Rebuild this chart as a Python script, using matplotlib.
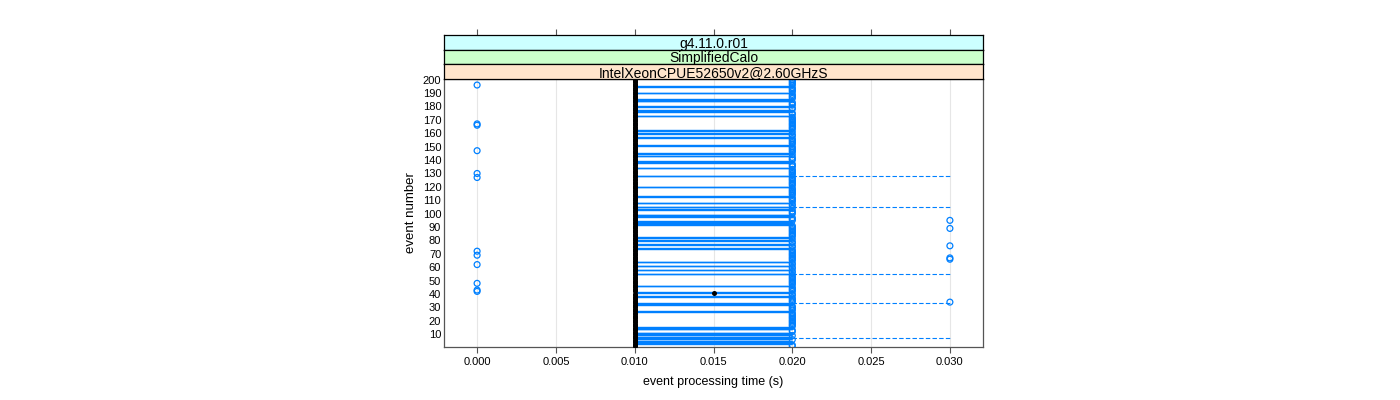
#!/usr/bin/env python3
# -*- coding: utf-8 -*-
#
# Per-event processing time, box-and-whisker style (lattice look).

import matplotlib
matplotlib.use("Agg")
import matplotlib.pyplot as plt
import numpy


# event numbers that have a box from 0.01 to 0.02
boxedEvents = [3, 4, 5, 7, 8, 10, 11, 14, 15, 27, 32, 33, 38, 41, 46, 55, 58,
	61, 64, 74, 77, 80, 82, 92, 93, 94, 98, 99, 103, 105, 108, 113, 120, 128,
	134, 138, 139, 143, 145, 151, 157, 160, 162, 173, 176, 177, 180, 184, 185,
	190, 195]
boxLow = 0.01
boxHigh = 0.02
medianDefault = 0.01
# events with a different median
specialMedianEvents = [41]
specialMedianValues = [0.015]
# events whose upper whisker goes to 0.03
whiskerEvents = [7, 33, 55, 105, 128]
whiskerTop = 0.03
# outliers
outlierZeroEvents = [42, 43, 48, 62, 69, 72, 127, 130, 147, 166, 167, 196]
outlierHighEvents = [34, 66, 67, 76, 89, 95]
outlierZeroValue = 0.0
outlierHighValue = 0.03
outlierMidValue = 0.02

stripLabels = ["g4.11.0.r01", "SimplifiedCalo", "IntelXeonCPUE52650v2@2.60GHzS"]
stripColors = ["#ccffff", "#ccffcc", "#ffe5cc"]
xTicks = [0.000, 0.005, 0.010, 0.015, 0.020, 0.025, 0.030]
yTicks = list(range(10, 201, 10))
nEvents = 200

BLUE = "#0080ff"
FRAME = "#555555"


def main(args):
	plt.rcParams['font.family'] = ['Liberation Sans', 'DejaVu Sans']

	events = numpy.arange(1, nEvents + 1)
	medians = numpy.full(nEvents, medianDefault)
	for ev, val in zip(specialMedianEvents, specialMedianValues):
		medians[ev - 1] = val
	midOutlierEvents = [e for e in events if e not in boxedEvents]

	myFigure = plt.figure(figsize=(14, 4), dpi=100)
	left, width = 444 / 1400, (983 - 444) / 1400
	bottom, height = 1 - 347 / 400, (347 - 79) / 400
	myFrame = myFigure.add_axes([left, bottom, width, height])

	xMin, xMax = -0.0021, 0.0321
	myFrame.set_xlim(xMin, xMax)
	myFrame.set_ylim(0.5, nEvents + 0.5)

	for xt in xTicks:
		myFrame.axvline(xt, color="#e6e6e6", lw=0.8, zorder=0)

	half = 0.25
	bx = numpy.array(boxedEvents)
	myFrame.hlines(bx - half, boxLow, boxHigh, color=BLUE, lw=1.0)
	myFrame.hlines(bx + half, boxLow, boxHigh, color=BLUE, lw=1.0)
	myFrame.vlines([boxLow] * len(bx), bx - half, bx + half, color=BLUE, lw=1.0)
	myFrame.vlines([boxHigh] * len(bx), bx - half, bx + half, color=BLUE, lw=1.0)

	myFrame.hlines(whiskerEvents, boxHigh, whiskerTop, color=BLUE, lw=0.8,
		linestyles=(0, (4, 2)))

	myFrame.scatter([outlierMidValue] * len(midOutlierEvents), midOutlierEvents,
		s=18, facecolors="none", edgecolors=BLUE, linewidths=0.9, zorder=3)
	myFrame.scatter([outlierZeroValue] * len(outlierZeroEvents), outlierZeroEvents,
		s=18, facecolors="none", edgecolors=BLUE, linewidths=0.9, zorder=3)
	myFrame.scatter([outlierHighValue] * len(outlierHighEvents), outlierHighEvents,
		s=18, facecolors="none", edgecolors=BLUE, linewidths=0.9, zorder=3)

	myFrame.scatter(medians, events, s=13, color="black", linewidths=0, zorder=4)

	myFrame.set_xticks(xTicks)
	myFrame.set_xticklabels(["%.3f" % v for v in xTicks])
	myFrame.set_yticks(yTicks)
	myFrame.set_yticklabels([str(v) for v in yTicks])
	myFrame.tick_params(axis="x", direction="out", length=4.5, color=FRAME,
		labelsize=8, pad=3)
	myFrame.tick_params(axis="y", length=0, labelsize=8, pad=2)
	for sp in myFrame.spines.values():
		sp.set_color(FRAME)
		sp.set_linewidth(0.9)

	myFrame.set_xlabel("event processing time (s)", fontsize=9, labelpad=6)
	myFrame.set_ylabel("event number", fontsize=9.5, labelpad=4)

	# strips on top of the panel
	stripH = (79 - 35) / 3 / 400
	for i, (lab, col) in enumerate(zip(stripLabels, stripColors)):
		sb = bottom + height + (2 - i) * stripH
		stripAx = myFigure.add_axes([left, sb, width, stripH])
		stripAx.set_facecolor(col)
		stripAx.set_xlim(xMin, xMax)
		stripAx.set_yticks([])
		for sp in stripAx.spines.values():
			sp.set_color("black")
			sp.set_linewidth(0.9)
		stripAx.text(0.5, 0.42, lab, transform=stripAx.transAxes, ha="center",
			va="center", fontsize=10)
		if i == 0:
			stripAx.set_xticks(xTicks)
			stripAx.xaxis.set_ticks_position("top")
			stripAx.tick_params(axis="x", direction="out", length=4.5,
				color=FRAME, labeltop=False, labelbottom=False)
		else:
			stripAx.set_xticks([])

	myFigure.savefig("out.png", dpi=100)
	plt.close(myFigure)
	return 0


if __name__ == '__main__':
	import sys
	sys.exit(main(sys.argv))
